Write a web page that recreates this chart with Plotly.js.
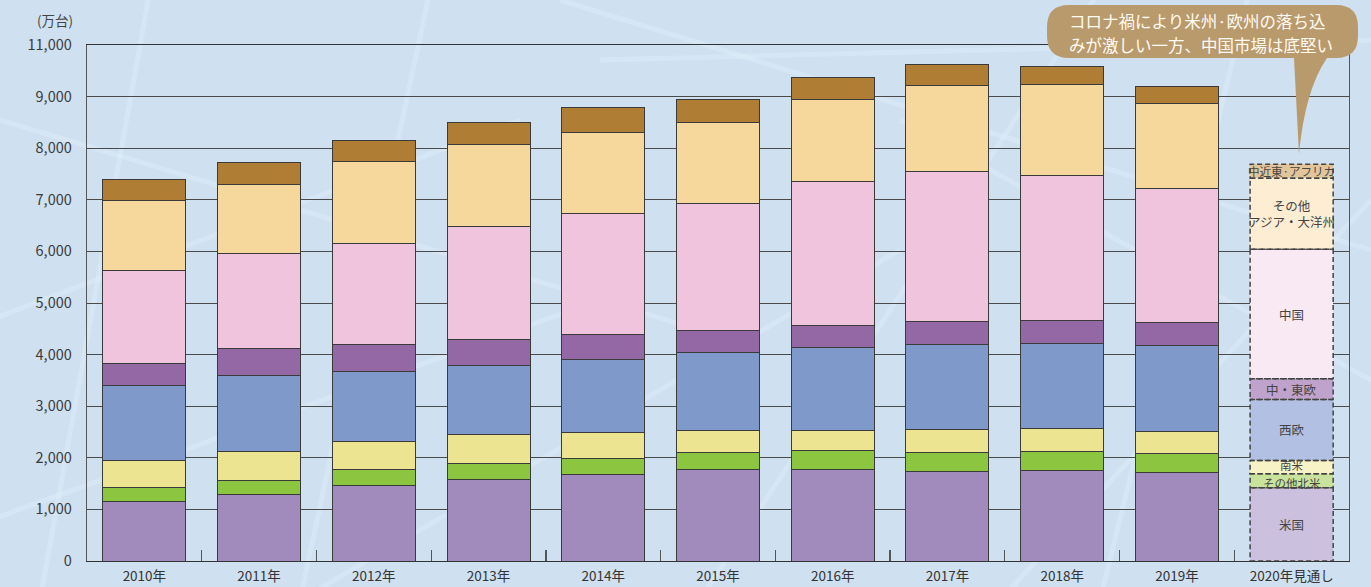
<!DOCTYPE html>
<html><head><meta charset="utf-8">
<script src="https://cdn.plot.ly/plotly-3.0.1.min.js"></script>
<style>html,body{margin:0;padding:0;background:#cfe0f0;} #chart{width:1371px;height:587px;}</style>
</head><body><div id="chart"></div>
<script>
// ---- data (万台) ----
const categories = ['2010年','2011年','2012年','2013年','2014年','2015年','2016年','2017年','2018年','2019年','2020年見通し'];
const usa                  = [1160,1290,1455,1570,1670,1780,1780,1730,1750,1720,1420];
const otherNorthAmerica    = [ 260, 270, 310, 310, 310, 330, 370, 380, 370, 360, 270];
const southAmerica         = [ 520, 560, 560, 580, 520, 410, 370, 430, 450, 430, 260];
const westernEurope        = [1460,1470,1340,1320,1400,1530,1610,1650,1650,1670,1180];
const centralEasternEurope = [ 420, 520, 540, 520, 480, 410, 430, 450, 450, 450, 400];
const china                = [1810,1850,1940,2190,2350,2460,2790,2900,2810,2580,2510];
const otherAsiaOceania     = [1360,1340,1590,1590,1570,1570,1590,1680,1760,1660,1380];
const middleEastAfrica     = [ 400, 420, 410, 410, 490, 450, 430, 410, 340, 320, 270];
const seriesNames = ['米国','その他北米','南米','西欧','中・東欧','中国','その他アジア・大洋州','中近東・アフリカ'];
const forecastLabels = ['米国','その他北米','南米','西欧','中・東欧','中国','その他<br>アジア・大洋州','中近東·アフリカ'];
const yTickValues = [0,1000,2000,3000,4000,5000,6000,7000,8000,9000,10000];
const yTickLabels = ['0','1,000','2,000','3,000','4,000','5,000','6,000','7,000','8,000','9,000','11,000'];
const calloutLines = ['コロナ禍により米州·欧州の落ち込','みが激しい一方、中国市場は底堅い'];

// ---- styles ----
const series = [usa, otherNorthAmerica, southAmerica, westernEurope, centralEasternEurope, china, otherAsiaOceania, middleEastAfrica];
const solidColors = ['#a18bbd','#8cc540','#ede491','#7f99cb','#9467a5','#f0c4dc','#f7d89c','#b07d34'];
const paleColors  = ['#cbc0dd','#c9e39c','#f7f3c6','#b2c0e3','#bfa3cc','#f9e9f2','#fdeed3','#e2c59b'];
const labelSizes  = [12.5, 11.5, 11.5, 12.5, 12.5, 12.5, 12.5, 11.5];
const labelShift  = [0, -2, 2, 0, 0, 0, 0, 0];
const FONT = '"Noto Sans CJK JP", "Noto Sans", sans-serif';
const BARGAP = 0.276;
const barW = 1 - BARGAP;
const last = categories.length - 1;

const traces = series.map((vals, i) => ({
  type: 'bar',
  name: seriesNames[i],
  x: categories,
  y: vals,
  marker: {
    color: vals.map((v, j) => j === last ? paleColors[i] : solidColors[i]),
    line: { color: '#3a3a3a', width: vals.map((v, j) => j === last ? 0 : 1) }
  },
  hoverinfo: 'name+y'
}));

// pixel -> paper helpers for decorations
const PL = 87, PR = 1349, PT = 45, PB = 561;
const px = x => (x - PL) / (PR - PL);
const py = y => (PB - y) / (PB - PT);

const shapes = [];
// background web lines
const bgLines = [
  [[-10,320],[520,120]], [[0,120],[700,330]], [[150,-10],[40,600]], [[430,-10],[300,600]],
  [[560,0],[1371,250]], [[700,600],[1100,-10]], [[900,120],[1371,380]], [[1000,600],[1371,200]],
  [[300,600],[900,250]], [[-10,520],[600,300]], [[1100,600],[1250,-10]], [[600,60],[1371,40]]
];
bgLines.forEach(([a, b]) => shapes.push({
  type: 'line', xref: 'paper', yref: 'paper', layer: 'below',
  x0: px(a[0]), y0: py(a[1]), x1: px(b[0]), y1: py(b[1]),
  line: { color: 'rgba(225,240,250,0.4)', width: 5 }
}));

// dashed outlines + labels for forecast bar, from cumulative data
const annotations = [];
let base = 0;
series.forEach((vals, i) => {
  const v = vals[last];
  shapes.push({
    type: 'rect', xref: 'x', yref: 'y',
    x0: last - barW / 2, x1: last + barW / 2, y0: base, y1: base + v,
    line: { color: '#444', width: 1.5, dash: '5px,3px' }, fillcolor: 'rgba(0,0,0,0)'
  });
  annotations.push({
    x: last, y: base + v / 2, xref: 'x', yref: 'y', showarrow: false, yshift: labelShift[i],
    text: forecastLabels[i],
    font: { family: FONT, size: labelSizes[i], color: '#444' }
  });
  base += v;
});

// callout bubble
const L = 1047, R = 1358, T = 5, B = 58, r = 22;
const P = (x, y) => px(x).toFixed(5) + ',' + py(y).toFixed(5);
const path = 'M' + P(L + r, T) + ' L' + P(R - r, T) + ' Q' + P(R, T) + ' ' + P(R, T + r) +
  ' L' + P(R, B - r) + ' Q' + P(R, B) + ' ' + P(R - r, B) + ' L' + P(1327, B) +
  ' Q' + P(1305, 90) + ' ' + P(1299, 154) + ' L' + P(1294, B) + ' L' + P(L + r, B) +
  ' Q' + P(L, B) + ' ' + P(L, B - r) + ' L' + P(L, T + r) + ' Q' + P(L, T) + ' ' + P(L + r, T) + ' Z';
shapes.push({ type: 'path', xref: 'paper', yref: 'paper', path: path, fillcolor: '#b99a6c', line: { width: 0 } });
calloutLines.forEach((t, k) => annotations.push({
  xref: 'paper', yref: 'paper', x: px(1067), y: py(21 + k * 24), xanchor: 'left', yanchor: 'middle',
  showarrow: false, text: t, font: { family: FONT, size: 16.5, color: '#fffaf2' }
}));
// unit label
annotations.push({
  xref: 'paper', yref: 'paper', x: px(55), y: py(20), xanchor: 'center', yanchor: 'middle',
  showarrow: false, text: '(万台)', font: { family: FONT, size: 13.5, color: '#444' }
});

const layout = {
  width: 1371, height: 587,
  margin: { l: PL, r: 1371 - PR, t: PT, b: 587 - PB, pad: 0 },
  paper_bgcolor: '#cfe0f0', plot_bgcolor: 'rgba(0,0,0,0)',
  barmode: 'stack', bargap: BARGAP, showlegend: false,
  font: { family: FONT, color: '#333' },
  xaxis: {
    type: 'category', range: [-0.5, last + 0.5], tickson: 'boundaries',
    ticks: 'inside', ticklen: 11, tickcolor: '#555', tickwidth: 1.2,
    showline: true, linecolor: '#333', linewidth: 1.3, mirror: true, showgrid: false,
    tickfont: { family: FONT, size: 13.5, color: '#333' }, ticklabelstandoff: 2, fixedrange: true
  },
  yaxis: {
    range: [0, 10000], tickmode: 'array', tickvals: yTickValues, ticktext: yTickLabels,
    showgrid: true, gridcolor: '#4a4a4a', gridwidth: 1, zeroline: false,
    showline: true, linecolor: '#555', linewidth: 1.3, mirror: true, ticks: '',
    tickfont: { family: FONT, size: 14.5, color: '#3a3a3a' }, ticklabelstandoff: 11, fixedrange: true
  },
  shapes: shapes, annotations: annotations
};

Plotly.newPlot('chart', traces, layout, { displayModeBar: false, staticPlot: true });
</script></body></html>
